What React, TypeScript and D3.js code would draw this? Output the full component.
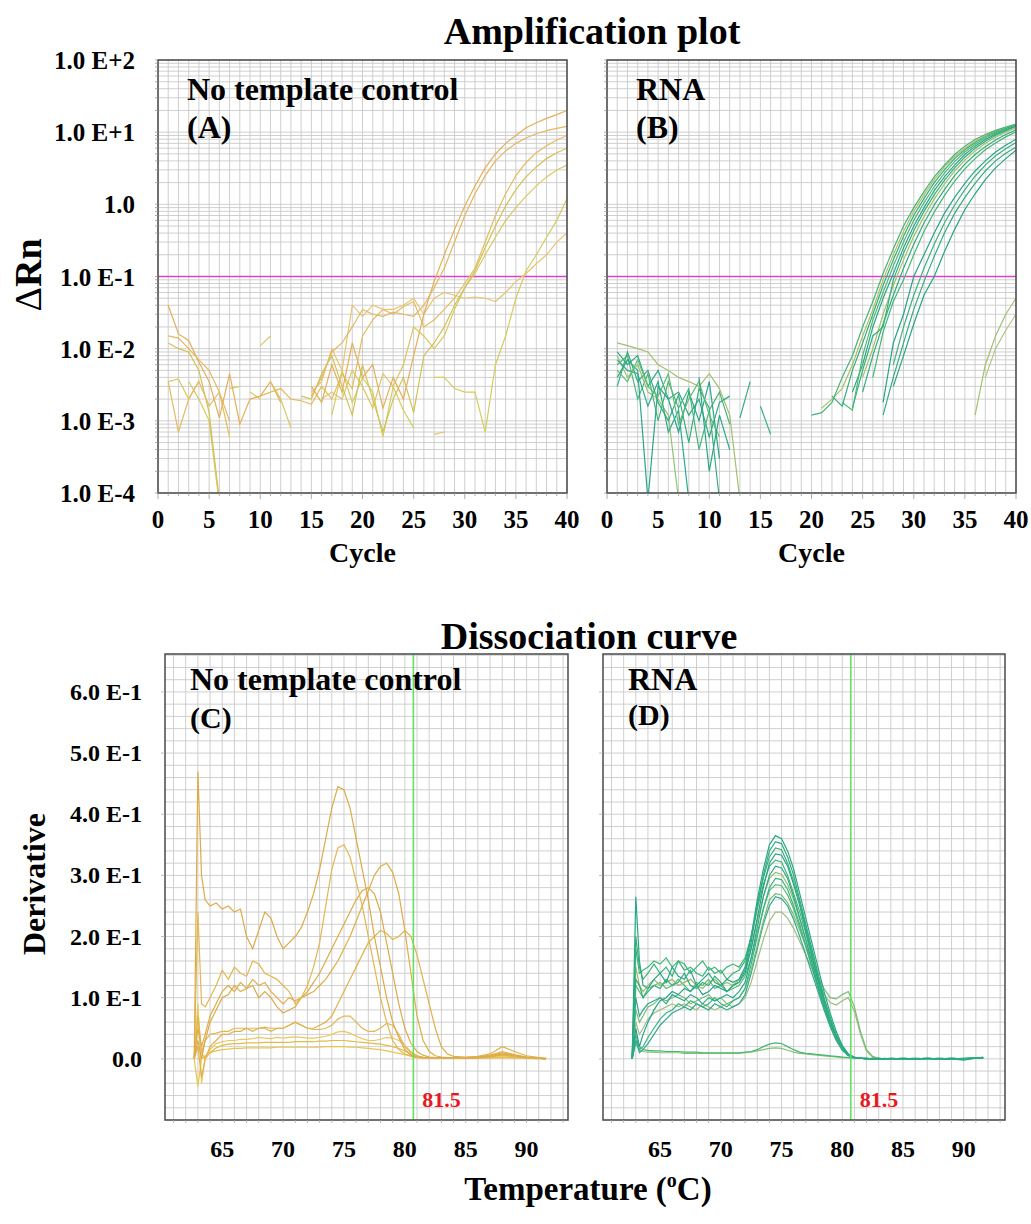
import React from 'react';
import * as d3 from 'd3';

// ---------- Amplification data (ΔRn per cycle) ----------
const cycleTicks = [0, 5, 10, 15, 20, 25, 30, 35, 40];
const logTickValues = [1e2, 1e1, 1, 1e-1, 1e-2, 1e-3, 1e-4];
const logTickLabels = ['1.0 E+2', '1.0 E+1', '1.0', '1.0 E-1', '1.0 E-2', '1.0 E-3', '1.0 E-4'];
const thresholdValue = 0.1;

// No template control (A) – series start at cycle 1 unless stated
const aE1 = [0.04, 0.016, 0.013, 0.0065, 0.0035, 0.0011, 0.0045, 0.0009, 0.002, 0.0022, 0.0035, 0.0018, null, null, 0.003, 0.0018, 0.006, 0.0025, 0.012, 0.004, 0.006, 0.0015, 0.004, 0.002, 0.008, 0.03, 0.085, 0.2, 0.45, 0.95, 1.8, 3.2, 5, 7, 9, 11.5, 13.5, 15.5, 17.5, 20];
const aE2 = [0.015, 0.014, 0.01, 0.007, 0.005, 0.0025, 0.001, null, null, null, null, null, null, null, 0.0022, 0.004, 0.009, 0.012, 0.02, 0.035, 0.03, 0.028, 0.032, 0.03, 0.028, 0.04, 0.07, 0.13, 0.3, 0.7, 1.4, 2.5, 4, 5.5, 7, 8.3, 9.5, 10.5, 11.3, 12];
const aM1 = [0.0035, 0.0007, 0.002, 0.0035, 0.0016, 0.0025, 0.0006, null, null, 0.0022, 0.0025, 0.0028, 0.002, 0.0019, 0.0017, 0.003, 0.002, 0.0045, 0.0028, 0.015, 0.025, 0.035, 0.03, 0.038, 0.045, 0.02, 0.025, 0.035, 0.05, 0.08, 0.13, 0.3, 0.7, 1.4, 2.5, 3.8, 5.2, 6.5, 7.8, 9];
const aM2 = [0.012, 0.01, 0.009, 0.005, 0.0013, 0.00008, null, null, null, null, null, null, null, 0.0022, 0.002, 0.0045, 0.008, 0.003, 0.0012, 0.006, 0.002, 0.0007, 0.002, 0.004, 0.0013, 0.008, 0.012, 0.02, 0.04, 0.07, 0.12, 0.25, 0.5, 0.95, 1.6, 2.4, 3.3, 4.3, 5.2, 6];
const aM3 = [null, null, 0.0035, 0.002, 0.001, 0.00007, null, null, 0.0025, 0.002, null, null, null, null, null, 0.002, 0.0025, 0.002, 0.005, 0.003, 0.0015, 0.0045, 0.003, 0.006, 0.02, 0.015, 0.01, 0.015, 0.035, 0.07, 0.11, 0.2, 0.35, 0.6, 0.9, 1.3, 1.8, 2.4, 3.0, 3.5];
const aL1 = [0.0035, 0.0038, 0.002, 0.0036, null, null, 0.0028, 0.003, null, null, null, null, null, null, null, null, 0.0012, 0.005, 0.0018, 0.004, 0.0025, 0.0006, 0.003, 0.0014, 0.0008, null, 0.004, 0.004, 0.0028, 0.0025, 0.0025, 0.0007, 0.006, 0.015, 0.05, 0.12, 0.2, 0.35, 0.6, 1.2];
const aL2 = [0.0025, 0.0035, 0.01, 0.005, 0.04, 0.028, 0.04, 0.035, 0.035, 0.04, 0.05, 0.03, 0.05, 0.06, 0.055, 0.05, 0.052, 0.05, 0.045, 0.06, 0.085, 0.11, 0.15, 0.2, 0.3, 0.4]; // from cycle 15
const aN1 = [0.011, 0.015]; // from cycle 10
const aN2 = [0.00065, 0.0007]; // from cycle 27
const aN3 = [0.0035, 0.002, 0.0008]; // from cycle 11

// RNA (B) – amplification parts start at cycle 20
const b1 = [0.0012, 0.0013, 0.0018, 0.004, 0.008, 0.02, 0.045, 0.11, 0.24, 0.5, 0.9, 1.5, 2.4, 3.5, 4.9, 6.4, 7.9, 9.3, 10.6, 11.8, 12.8];
const b2 = [null, 0.0015, 0.002, 0.0028, 0.006, 0.015, 0.035, 0.09, 0.2, 0.42, 0.8, 1.35, 2.2, 3.3, 4.6, 6.0, 7.5, 9.0, 10.4, 11.7, 12.9];
const b3 = [null, null, 0.0022, 0.0016, 0.005, 0.012, 0.03, 0.075, 0.17, 0.36, 0.7, 1.2, 2.0, 3.0, 4.3, 5.7, 7.2, 8.7, 10.1, 11.4, 12.7];
const b4 = [null, null, null, 0.0018, 0.0014, 0.008, 0.025, 0.06, 0.14, 0.3, 0.6, 1.05, 1.75, 2.7, 3.9, 5.3, 6.8, 8.3, 9.8, 11.2, 12.5];
const b5 = [null, null, null, null, 0.0025, 0.006, 0.02, 0.05, 0.11, 0.25, 0.5, 0.9, 1.55, 2.4, 3.5, 4.9, 6.4, 7.9, 9.4, 10.8, 12.2];
const b6 = [null, null, null, null, 0.0015, 0.005, 0.015, 0.02, 0.09, 0.21, 0.43, 0.8, 1.35, 2.15, 3.2, 4.5, 6.0, 7.5, 9.0, 10.5, 12.0];
const b7 = [null, null, null, null, null, 0.004, 0.01, 0.03, 0.075, 0.17, 0.36, 0.68, 1.18, 1.9, 2.9, 4.1, 5.5, 7.0, 8.5, 10.0, 11.5];
const b8 = [null, null, null, null, null, 0.0025, 0.008, 0.022, 0.055, 0.13, 0.28, 0.55, 0.98, 1.6, 2.5, 3.6, 4.9, 6.3, 7.8, 9.3, 10.8];
const b9 = [null, null, null, null, null, null, 0.004, 0.017, 0.045, 0.09, 0.2, 0.42, 0.78, 1.32, 2.1, 3.1, 4.3, 5.7, 7.1, 8.6, 10.1];
const b10 = [null, null, null, null, null, null, null, 0.0018, 0.012, 0.03, 0.1, 0.2, 0.4, 0.75, 1.25, 1.95, 2.9, 4.0, 5.3, 6.6, 8.0];
const b11 = [null, null, null, null, null, null, null, null, 0.006, 0.02, 0.055, 0.13, 0.28, 0.55, 0.98, 1.6, 2.45, 3.5, 4.7, 5.9, 7.2];
const b12 = [null, null, null, null, null, null, null, 0.0012, 0.004, 0.012, 0.035, 0.085, 0.19, 0.4, 0.75, 1.25, 1.95, 2.9, 4.0, 5.1, 6.2];
const b13 = [null, null, null, null, null, null, null, null, 0.003, 0.008, 0.022, 0.055, 0.1, 0.22, 0.45, 0.85, 1.4, 2.2, 3.2, 4.3, 5.6];
const bL1 = [0.0012, 0.006, 0.015, 0.03, 0.05]; // from cycle 36
const bL2 = [0.004, 0.01, 0.018, 0.03]; // from cycle 37
// RNA (B) – early noise, from cycle 1
const bn1 = [0.012, 0.011, 0.01, 0.009, 0.006, 0.005, 0.004, 0.0035, 0.003, 0.0045, 0.0028, 0.0012, 0.00008];
const bn2 = [0.009, 0.006, 0.008, 0.003, 0.005, 0.002, 0.0025, 0.0012, 0.002, 0.0006, 0.0018, 0.0022];
const bn3 = [0.006, 0.008, 0.002, 0.0045, 0.001, 0.0035, 0.0015, 0.0028, 0.0004, 0.0014, 0.0025, 0.0009];
const bn4 = [0.004, 0.007, 0.005, 0.00008, 0.003, 0.002, 0.0007, 0.0025, 0.001, 0.0035, 0.0003];
const bn5 = [0.008, 0.004, 0.006, 0.0025, 0.002, 0.0012, 0.00008];
const bn6 = [0.003, 0.009, 0.0035, 0.005, 0.0018, 0.001, 0.0023, 0.0005, 0.0028, 0.0015, 0.00008];
const bn7 = [0.007, 0.005, 0.0045, 0.0016, 0.0035, 0.0007, 0.0014, 0.00008];
const bn8 = [0.005, 0.0035, 0.007, 0.003, 0.0022, 0.0045, 0.0009, 0.002, 0.0035, 0.0012, 0.0006];
const bn9 = [0.0011, 0.0035]; // from cycle 13
const bn10 = [0.0016, 0.00065]; // from cycle 15
const bn11 = [0.004, 0.0002, 0.0012, 0.0004]; // from cycle 9

// ---------- Dissociation data (derivative vs temperature) ----------
const temps = [62.7, 63.0, 63.3, 63.6, 64.0, 64.5, 65.0, 65.5, 66.0, 66.5,
  67.0, 67.5, 68.0, 68.5, 69.0, 69.5, 70.0, 70.5, 71.0, 71.5,
  72.0, 72.5, 73.0, 73.5, 74.0, 74.5, 75.0, 75.5, 76.0, 76.5,
  77.0, 77.5, 78.0, 78.5, 79.0, 79.5, 80.0, 80.5, 81.0, 81.5,
  82.0, 82.5, 83.0, 83.5, 84.0, 85, 86, 87, 88, 89, 90, 91, 91.6];
const tempTicks = [65, 70, 75, 80, 85, 90];
const derivTicks = [0, 0.1, 0.2, 0.3, 0.4, 0.5, 0.6];
const derivTickLabels = ['0.0', '1.0 E-1', '2.0 E-1', '3.0 E-1', '4.0 E-1', '5.0 E-1', '6.0 E-1'];
const markerLabel = '81.5';
const markerTemp = 80.7;

// No template control (C)
const c1 = [0.0, 0.47, 0.3, 0.26, 0.25, 0.255, 0.245, 0.25, 0.24, 0.245,
  0.2, 0.18, 0.21, 0.24, 0.23, 0.2, 0.18, 0.19, 0.2, 0.215,
  0.24, 0.27, 0.31, 0.36, 0.41, 0.445, 0.44, 0.41, 0.36, 0.31,
  0.26, 0.2, 0.15, 0.1, 0.06, 0.035, 0.015, 0.006, 0.003, 0.002,
  0.002, 0.001, 0.002, 0.001, 0.002, 0.001, 0.002, 0.004, 0.008, 0.005, 0.002, 0.001, 0.0];
const c2 = [0.0, 0.24, 0.09, 0.085, 0.1, 0.12, 0.145, 0.13, 0.15, 0.14,
  0.135, 0.16, 0.155, 0.14, 0.135, 0.13, 0.12, 0.11, 0.09, 0.1,
  0.12, 0.15, 0.19, 0.25, 0.31, 0.345, 0.35, 0.33, 0.29, 0.25,
  0.2, 0.15, 0.1, 0.06, 0.03, 0.015, 0.008, 0.004, 0.002, 0.001,
  0.001, 0.002, 0.001, 0.001, 0.002, 0.001, 0.002, 0.003, 0.006, 0.004, 0.002, 0.001, 0.0];
const c3 = [0.0, 0.05, 0.02, 0.04, 0.07, 0.09, 0.11, 0.12, 0.11, 0.125,
  0.115, 0.13, 0.12, 0.125, 0.11, 0.1, 0.09, 0.1, 0.095, 0.1,
  0.105, 0.11, 0.12, 0.13, 0.145, 0.16, 0.18, 0.2, 0.225, 0.25,
  0.275, 0.3, 0.315, 0.32, 0.305, 0.27, 0.21, 0.14, 0.07, 0.03,
  0.012, 0.005, 0.003, 0.002, 0.002, 0.002, 0.003, 0.005, 0.01, 0.006, 0.003, 0.002, 0.001];
const c4 = [0.0, 0.03, 0.0, 0.03, 0.06, 0.08, 0.1, 0.105, 0.12, 0.11,
  0.115, 0.12, 0.1, 0.11, 0.1, 0.085, 0.075, 0.08, 0.085, 0.1,
  0.11, 0.125, 0.14, 0.16, 0.18, 0.2, 0.22, 0.24, 0.26, 0.275,
  0.28, 0.27, 0.24, 0.19, 0.14, 0.09, 0.05, 0.025, 0.012, 0.006,
  0.003, 0.002, 0.002, 0.001, 0.002, 0.001, 0.002, 0.004, 0.007, 0.004, 0.002, 0.001, 0.0];
const c5 = [0.0, 0.02, -0.03, 0.0, 0.02, 0.03, 0.04, 0.04, 0.045, 0.045,
  0.05, 0.045, 0.05, 0.05, 0.045, 0.05, 0.05, 0.055, 0.06, 0.055,
  0.05, 0.05, 0.055, 0.06, 0.07, 0.09, 0.11, 0.13, 0.15, 0.17,
  0.19, 0.2, 0.21, 0.205, 0.195, 0.2, 0.21, 0.2, 0.17, 0.13,
  0.09, 0.05, 0.02, 0.008, 0.004, 0.003, 0.004, 0.008, 0.02, 0.012, 0.005, 0.002, 0.001];
const c6 = [0.0, 0.07, 0.01, 0.03, 0.04, 0.042, 0.045, 0.045, 0.05, 0.05,
  0.05, 0.05, 0.05, 0.052, 0.05, 0.05, 0.05, 0.055, 0.06, 0.055,
  0.05, 0.048, 0.048, 0.05, 0.055, 0.065, 0.07, 0.07, 0.06, 0.05,
  0.045, 0.045, 0.05, 0.058, 0.055, 0.04, 0.02, 0.01, 0.005, 0.003,
  0.002, 0.002, 0.001, 0.002, 0.001, 0.002, 0.003, 0.006, 0.012, 0.007, 0.003, 0.001, 0.0];
const c7 = [0.0, 0.09, -0.04, 0.0, 0.015, 0.025, 0.028, 0.03, 0.03, 0.032,
  0.032, 0.033, 0.035, 0.034, 0.033, 0.035, 0.034, 0.035, 0.036, 0.035,
  0.034, 0.034, 0.035, 0.037, 0.04, 0.044, 0.045, 0.042, 0.037, 0.033,
  0.03, 0.03, 0.032, 0.035, 0.034, 0.03, 0.022, 0.012, 0.005, 0.002,
  0.001, 0.001, 0.002, 0.001, 0.001, 0.001, 0.002, 0.003, 0.005, 0.003, 0.002, 0.001, 0.0];
const c8 = [0.0, 0.08, 0.01, 0.0, 0.01, 0.018, 0.022, 0.024, 0.025, 0.025,
  0.026, 0.026, 0.026, 0.027, 0.027, 0.027, 0.027, 0.027, 0.028, 0.028,
  0.028, 0.028, 0.029, 0.029, 0.03, 0.03, 0.03, 0.029, 0.028, 0.027,
  0.026, 0.025, 0.024, 0.022, 0.02, 0.017, 0.013, 0.008, 0.004, 0.002,
  0.001, 0.001, 0.001, 0.001, 0.001, 0.001, 0.001, 0.002, 0.003, 0.002, 0.001, 0.001, 0.0];
const c9 = [0.0, -0.045, 0.0, 0.005, 0.01, 0.013, 0.015, 0.016, 0.017, 0.017,
  0.018, 0.018, 0.018, 0.018, 0.018, 0.019, 0.019, 0.019, 0.019, 0.019,
  0.019, 0.019, 0.019, 0.02, 0.02, 0.02, 0.02, 0.019, 0.019, 0.018,
  0.017, 0.016, 0.015, 0.013, 0.011, 0.009, 0.007, 0.005, 0.003, 0.002,
  0.001, 0.001, 0.001, 0.001, 0.001, 0.001, 0.001, 0.001, 0.002, 0.001, 0.001, 0.0, 0.0];

// RNA (D)
const dm1 = [0.0, 0.265, 0.16, 0.12, 0.115, 0.13, 0.14, 0.125, 0.15, 0.135,
  0.13, 0.145, 0.12, 0.13, 0.14, 0.125, 0.12, 0.13, 0.125, 0.13,
  0.15, 0.2, 0.26, 0.31, 0.35, 0.365, 0.36, 0.34, 0.31, 0.27,
  0.23, 0.19, 0.15, 0.11, 0.075, 0.045, 0.022, 0.008, 0.003, 0.001,
  0.001, 0, 0.001, 0, 0, 0.001, 0, 0.001, 0, 0, -0.002, 0.001, 0.003];
const dm2 = [0.0, 0.13, 0.12, 0.1, 0.11, 0.12, 0.115, 0.13, 0.12, 0.125,
  0.14, 0.12, 0.115, 0.125, 0.12, 0.135, 0.125, 0.11, 0.12, 0.125,
  0.145, 0.19, 0.25, 0.3, 0.34, 0.355, 0.352, 0.33, 0.3, 0.26,
  0.22, 0.18, 0.14, 0.1, 0.068, 0.04, 0.02, 0.007, 0.002, 0.001,
  0, 0.001, 0, 0, 0.001, 0, 0, 0.001, 0, 0.001, 0, 0.002, 0.002];
const dm3 = [0.0, 0.2, 0.15, 0.13, 0.14, 0.155, 0.14, 0.15, 0.135, 0.16,
  0.145, 0.15, 0.14, 0.135, 0.15, 0.14, 0.145, 0.13, 0.14, 0.145,
  0.16, 0.2, 0.25, 0.295, 0.33, 0.345, 0.342, 0.32, 0.29, 0.255,
  0.215, 0.175, 0.135, 0.098, 0.065, 0.038, 0.018, 0.007, 0.002, 0.001,
  0, 0, 0.001, 0, 0, 0, 0.001, 0, 0, 0.001, 0, 0.001, 0.002];
const dm4 = [0.0, 0.05, 0.02, 0.04, 0.06, 0.08, 0.095, 0.1, 0.11, 0.105,
  0.115, 0.11, 0.12, 0.105, 0.11, 0.12, 0.115, 0.11, 0.12, 0.125,
  0.14, 0.18, 0.23, 0.28, 0.32, 0.335, 0.333, 0.315, 0.285, 0.25,
  0.21, 0.17, 0.13, 0.095, 0.062, 0.036, 0.017, 0.006, 0.002, 0.001,
  0.001, 0, 0, 0.001, 0, 0, 0, 0.001, 0, 0, 0.001, 0.002, 0.001];
const dm5 = [0.0, 0.18, 0.14, 0.145, 0.15, 0.16, 0.155, 0.165, 0.15, 0.16,
  0.155, 0.14, 0.15, 0.16, 0.145, 0.15, 0.14, 0.15, 0.155, 0.15,
  0.165, 0.2, 0.245, 0.285, 0.315, 0.325, 0.322, 0.3, 0.27, 0.24,
  0.205, 0.165, 0.128, 0.09, 0.06, 0.034, 0.016, 0.006, 0.002, 0.001,
  0, 0.001, 0, 0, 0, 0.001, 0, 0, 0.001, 0, 0, 0.001, 0.002];
const dm6 = [0.0, 0.1, 0.07, 0.08, 0.09, 0.095, 0.1, 0.09, 0.105, 0.1,
  0.095, 0.105, 0.1, 0.09, 0.1, 0.095, 0.1, 0.105, 0.1, 0.11,
  0.125, 0.165, 0.215, 0.265, 0.3, 0.315, 0.312, 0.295, 0.265, 0.23,
  0.195, 0.158, 0.12, 0.086, 0.057, 0.033, 0.016, 0.006, 0.002, 0.001,
  0.001, 0, 0, 0, 0.001, 0, 0, 0, 0.001, 0, 0, 0.001, 0.002];
const dm7 = [0.0, 0.15, 0.12, 0.11, 0.12, 0.13, 0.12, 0.125, 0.13, 0.12,
  0.125, 0.13, 0.12, 0.115, 0.125, 0.13, 0.12, 0.125, 0.12, 0.13,
  0.145, 0.18, 0.225, 0.265, 0.295, 0.305, 0.302, 0.285, 0.26, 0.228,
  0.195, 0.16, 0.125, 0.092, 0.062, 0.037, 0.018, 0.007, 0.002, 0.001,
  0, 0, 0.001, 0, 0, 0.001, 0, 0, 0, 0.001, 0, 0.001, 0.002];
const dm8 = [0.0, 0.04, 0.015, 0.02, 0.035, 0.05, 0.065, 0.075, 0.08, 0.09,
  0.085, 0.095, 0.09, 0.085, 0.09, 0.1, 0.09, 0.085, 0.095, 0.1,
  0.115, 0.155, 0.2, 0.245, 0.28, 0.295, 0.293, 0.277, 0.25, 0.22,
  0.185, 0.15, 0.115, 0.083, 0.055, 0.032, 0.015, 0.006, 0.002, 0.001,
  0, 0.001, 0, 0, 0, 0, 0.001, 0, 0, 0, 0.001, 0.001, 0.002];
const dm9 = [0.0, 0.12, 0.11, 0.1, 0.115, 0.12, 0.125, 0.115, 0.12, 0.13,
  0.12, 0.11, 0.125, 0.12, 0.13, 0.115, 0.12, 0.11, 0.115, 0.12,
  0.135, 0.165, 0.205, 0.245, 0.275, 0.285, 0.283, 0.268, 0.245, 0.215,
  0.183, 0.15, 0.118, 0.087, 0.06, 0.036, 0.018, 0.007, 0.002, 0.001,
  0.001, 0, 0, 0, 0.001, 0, 0, 0.001, 0, 0, 0, 0.002, 0.001];
const dm10 = [0.0, 0.08, 0.06, 0.07, 0.085, 0.09, 0.1, 0.095, 0.1, 0.105,
  0.1, 0.09, 0.095, 0.1, 0.105, 0.095, 0.1, 0.09, 0.095, 0.1,
  0.115, 0.145, 0.185, 0.225, 0.26, 0.27, 0.268, 0.255, 0.235, 0.21,
  0.185, 0.16, 0.135, 0.115, 0.1, 0.098, 0.105, 0.11, 0.085, 0.045,
  0.015, 0.004, 0.001, 0, 0, 0.001, 0, 0, 0.001, 0, 0, 0.001, 0.002];
const dm11 = [0.0, 0.03, 0.01, 0.015, 0.025, 0.04, 0.055, 0.065, 0.075, 0.08,
  0.085, 0.08, 0.09, 0.085, 0.08, 0.09, 0.085, 0.08, 0.085, 0.09,
  0.105, 0.14, 0.18, 0.22, 0.25, 0.265, 0.262, 0.25, 0.228, 0.2,
  0.17, 0.14, 0.11, 0.08, 0.053, 0.03, 0.014, 0.005, 0.002, 0.001,
  0, 0, 0.001, 0, 0, 0, 0, 0.001, 0, 0.001, 0, 0.001, 0.002];
const dm12 = [0.0, 0.06, 0.04, 0.05, 0.065, 0.075, 0.08, 0.085, 0.09, 0.085,
  0.09, 0.085, 0.08, 0.09, 0.085, 0.08, 0.085, 0.09, 0.085, 0.09,
  0.1, 0.125, 0.16, 0.195, 0.225, 0.24, 0.24, 0.23, 0.213, 0.192,
  0.17, 0.148, 0.126, 0.106, 0.092, 0.088, 0.095, 0.1, 0.078, 0.04,
  0.012, 0.003, 0.001, 0, 0, 0, 0.001, 0, 0, 0.001, 0, 0.001, 0.002];
const dm13 = [0.0, 0.03, 0.02, 0.015, 0.014, 0.013, 0.013, 0.012, 0.012, 0.012,
  0.011, 0.011, 0.011, 0.01, 0.01, 0.01, 0.01, 0.01, 0.01, 0.01,
  0.011, 0.012, 0.015, 0.02, 0.024, 0.026, 0.025, 0.02, 0.015, 0.011,
  0.009, 0.008, 0.007, 0.006, 0.005, 0.004, 0.003, 0.002, 0.001, 0.001,
  0, 0, 0, 0, 0, 0, 0, 0, 0, 0, 0, 0.001, 0.002];
const dm14 = [0.0, 0.025, 0.015, 0.012, 0.011, 0.011, 0.01, 0.01, 0.01, 0.01,
  0.009, 0.009, 0.009, 0.009, 0.009, 0.009, 0.009, 0.009, 0.009, 0.009,
  0.01, 0.011, 0.013, 0.015, 0.017, 0.018, 0.017, 0.014, 0.011, 0.009,
  0.008, 0.007, 0.006, 0.005, 0.004, 0.003, 0.002, 0.002, 0.001, 0.001,
  0, 0, 0, 0, 0, 0, 0, 0, 0, 0, 0, 0.001, 0.002];

// ---------- Series tables ----------
type AmpSeries = { start: number; values: (number | null)[]; color: string };
const seriesA: AmpSeries[] = [
  { start: 1, values: aL1, color: '#d6cc5c' },
  { start: 15, values: aL2, color: '#e6c572' },
  { start: 1, values: aM3, color: '#d9c862' },
  { start: 1, values: aM2, color: '#d2c252' },
  { start: 1, values: aM1, color: '#e4bc5e' },
  { start: 1, values: aE2, color: '#e2b862' },
  { start: 1, values: aE1, color: '#e6ae58' },
  { start: 10, values: aN1, color: '#dac85e' },
  { start: 27, values: aN2, color: '#e4c068' },
  { start: 11, values: aN3, color: '#d8c658' },
];
const seriesB: AmpSeries[] = [
  { start: 1, values: bn1, color: '#a2c070' },
  { start: 1, values: bn2, color: '#2ea982' },
  { start: 1, values: bn3, color: '#48b67a' },
  { start: 1, values: bn4, color: '#28a588' },
  { start: 1, values: bn5, color: '#94c372' },
  { start: 1, values: bn6, color: '#34ae7e' },
  { start: 1, values: bn7, color: '#2ca98e' },
  { start: 1, values: bn8, color: '#64bc74' },
  { start: 13, values: bn9, color: '#34ab86' },
  { start: 15, values: bn10, color: '#34ab86' },
  { start: 9, values: bn11, color: '#2aa884' },
  { start: 20, values: b13, color: '#26a584' },
  { start: 20, values: b12, color: '#32ab84' },
  { start: 20, values: b11, color: '#3eb17c' },
  { start: 20, values: b10, color: '#26a38a' },
  { start: 20, values: b9, color: '#46b678' },
  { start: 20, values: b8, color: '#2eab80' },
  { start: 20, values: b7, color: '#a2c066' },
  { start: 20, values: b6, color: '#34b07a' },
  { start: 20, values: b5, color: '#28a688' },
  { start: 20, values: b4, color: '#50b874' },
  { start: 20, values: b3, color: '#32ad7e' },
  { start: 20, values: b2, color: '#b0bc66' },
  { start: 20, values: b1, color: '#44b478' },
  { start: 36, values: bL1, color: '#a0c270' },
  { start: 37, values: bL2, color: '#b6c47c' },
];
type MeltSeries = { values: number[]; color: string };
const seriesC: MeltSeries[] = [
  { values: c9, color: '#e8c64e' },
  { values: c8, color: '#e2bc48' },
  { values: c7, color: '#eac85e' },
  { values: c6, color: '#e0b852' },
  { values: c5, color: '#e2b04a' },
  { values: c4, color: '#dcaa4a' },
  { values: c3, color: '#deae46' },
  { values: c2, color: '#e4b650' },
  { values: c1, color: '#deaa48' },
];
const seriesD: MeltSeries[] = [
  { values: dm14, color: '#84c270' },
  { values: dm13, color: '#46b674' },
  { values: dm12, color: '#a0bc80' },
  { values: dm11, color: '#34a892' },
  { values: dm10, color: '#76be74' },
  { values: dm9, color: '#56bb74' },
  { values: dm8, color: '#3ab482' },
  { values: dm7, color: '#96bc66' },
  { values: dm6, color: '#2ca98c' },
  { values: dm5, color: '#3fb874' },
  { values: dm4, color: '#28a18c' },
  { values: dm3, color: '#36b278' },
  { values: dm2, color: '#30ac80' },
  { values: dm1, color: '#28a886' },
];

// ---------- Layout ----------
const FONT = "'Liberation Serif', 'Times New Roman', serif";
const GRID = '#c9c9c9';
const FRAME = '#4a4a4a';

type Box = { x0: number; x1: number; y0: number; y1: number };
const boxA: Box = { x0: 158, x1: 567, y0: 60, y1: 493 };
const boxB: Box = { x0: 607, x1: 1016, y0: 60, y1: 493 };
const boxC: Box = { x0: 165, x1: 568, y0: 654, y1: 1120 };
const boxD: Box = { x0: 603, x1: 1005, y0: 654, y1: 1120 };

const logGrid: number[] = [];
for (let e = -4; e <= 1; e++) for (let k = 1; k <= 9; k++) logGrid.push(k * Math.pow(10, e));
logGrid.push(100);

function AmpPanel({ box, series, id, showY, title, letter }: { box: Box; series: AmpSeries[]; id: string; showY: boolean; title: string; letter: string }) {
  const x = d3.scaleLinear().domain([0, 40]).range([box.x0, box.x1]);
  const y = d3.scaleLog().domain([1e-4, 1e2]).range([box.y1, box.y0]);
  const line = d3
    .line<[number, number | null]>()
    .defined((d) => d[1] != null && (d[1] as number) > 0)
    .x((d) => x(d[0]))
    .y((d) => y(d[1] as number));
  return (
    <g>
      <defs>
        <clipPath id={id}>
          <rect x={box.x0} y={box.y0} width={box.x1 - box.x0} height={box.y1 - box.y0} />
        </clipPath>
      </defs>
      <rect x={box.x0} y={box.y0} width={box.x1 - box.x0} height={box.y1 - box.y0} fill="#fff" />
      {d3.range(0, 41).map((c) => (
        <line key={'v' + c} x1={x(c)} x2={x(c)} y1={box.y0} y2={box.y1} stroke={GRID} strokeWidth={0.9} />
      ))}
      {logGrid.map((v, i) => (
        <line key={'h' + i} x1={box.x0} x2={box.x1} y1={y(v)} y2={y(v)} stroke={GRID} strokeWidth={0.9} />
      ))}
      <line x1={box.x0} x2={box.x1} y1={y(thresholdValue)} y2={y(thresholdValue)} stroke="#e040c8" strokeWidth={1.6} />
      <g clipPath={`url(#${id})`}>
        {series.map((s, i) => (
          <path
            key={i}
            d={line(s.values.map((v, j) => [s.start + j, v] as [number, number | null])) || ''}
            fill="none"
            stroke={s.color}
            strokeWidth={1.2}
          />
        ))}
      </g>
      <rect x={box.x0} y={box.y0} width={box.x1 - box.x0} height={box.y1 - box.y0} fill="none" stroke={FRAME} strokeWidth={1.5} />
      {d3.range(0, 41).map((c) => (
        <line key={'tx' + c} x1={x(c)} x2={x(c)} y1={box.y1} y2={box.y1 + (c % 5 === 0 ? 6 : 3)} stroke="#999" strokeWidth={0.8} />
      ))}
      {logGrid.map((v, i) => (
        <line key={'ty' + i} x1={box.x0 - 3} x2={box.x0} y1={y(v)} y2={y(v)} stroke="#999" strokeWidth={0.8} />
      ))}
      {cycleTicks.map((c) => (
        <text key={'xl' + c} x={x(c)} y={box.y1 + 35} textAnchor="middle" fontFamily={FONT} fontWeight="bold" fontSize={25}>
          {c}
        </text>
      ))}
      {showY &&
        logTickValues.map((v, i) => (
          <text key={'yl' + i} x={box.x0 - 23} y={y(v) + 9} textAnchor="end" fontFamily={FONT} fontWeight="bold" fontSize={25}>
            {logTickLabels[i]}
          </text>
        ))}
      <text x={(box.x0 + box.x1) / 2} y={box.y1 + 69} textAnchor="middle" fontFamily={FONT} fontWeight="bold" fontSize={28}>
        Cycle
      </text>
      <text x={box.x0 + 29} y={box.y0 + 40} fontFamily={FONT} fontWeight="bold" fontSize={32}>
        {title}
      </text>
      <text x={box.x0 + 29} y={box.y0 + 78} fontFamily={FONT} fontWeight="bold" fontSize={32}>
        {letter}
      </text>
    </g>
  );
}

function MeltPanel({ box, series, id, showY, title, letter, letterDy }: { box: Box; series: MeltSeries[]; id: string; showY: boolean; title: string; letter: string; letterDy: number }) {
  const x = d3.scaleLinear().domain([60.3, 93.4]).range([box.x0, box.x1]);
  const y = d3.scaleLinear().domain([-0.1, 0.662]).range([box.y1, box.y0]);
  const line = d3
    .line<number>()
    .x((_, i) => x(temps[i]))
    .y((d) => y(d));
  const vGrid = d3.range(61, 94);
  const hGrid = d3.range(-0.1, 0.661, 0.02);
  return (
    <g>
      <defs>
        <clipPath id={id}>
          <rect x={box.x0} y={box.y0} width={box.x1 - box.x0} height={box.y1 - box.y0} />
        </clipPath>
      </defs>
      <rect x={box.x0} y={box.y0} width={box.x1 - box.x0} height={box.y1 - box.y0} fill="#fff" />
      {vGrid.map((t) => (
        <line key={'v' + t} x1={x(t)} x2={x(t)} y1={box.y0} y2={box.y1} stroke={GRID} strokeWidth={0.9} />
      ))}
      {hGrid.map((v, i) => (
        <line key={'h' + i} x1={box.x0} x2={box.x1} y1={y(v)} y2={y(v)} stroke={GRID} strokeWidth={0.9} />
      ))}
      <g clipPath={`url(#${id})`}>
        {series.map((s, i) => (
          <path key={i} d={line(s.values) || ''} fill="none" stroke={s.color} strokeWidth={1.2} />
        ))}
      </g>
      <line x1={x(markerTemp)} x2={x(markerTemp)} y1={box.y0} y2={box.y1} stroke="#62e062" strokeWidth={1.6} />
      <text x={x(markerTemp) + 9} y={box.y1 - 13} fontFamily={FONT} fontWeight="bold" fontSize={22} fill="#e8191e">
        {markerLabel}
      </text>
      <rect x={box.x0} y={box.y0} width={box.x1 - box.x0} height={box.y1 - box.y0} fill="none" stroke={FRAME} strokeWidth={1.5} />
      {vGrid.map((t) => (
        <line key={'tx' + t} x1={x(t)} x2={x(t)} y1={box.y1} y2={box.y1 + 3} stroke="#aaa" strokeWidth={0.8} />
      ))}
      {derivTicks.map((v) => (
        <line key={'ty' + v} x1={box.x0 - 4} x2={box.x0} y1={y(v)} y2={y(v)} stroke="#aaa" strokeWidth={0.8} />
      ))}
      {tempTicks.map((t) => (
        <text key={'xl' + t} x={x(t)} y={box.y1 + 37} textAnchor="middle" fontFamily={FONT} fontWeight="bold" fontSize={24}>
          {t}
        </text>
      ))}
      {showY &&
        derivTicks.map((v, i) => (
          <text key={'yl' + i} x={box.x0 - 23} y={y(v) + 8} textAnchor="end" fontFamily={FONT} fontWeight="bold" fontSize={24}>
            {derivTickLabels[i]}
          </text>
        ))}
      <text x={box.x0 + 25} y={box.y0 + 36} fontFamily={FONT} fontWeight="bold" fontSize={32}>
        {title}
      </text>
      <text x={box.x0 + 25} y={box.y0 + 36 + letterDy} fontFamily={FONT} fontWeight="bold" fontSize={30}>
        {letter}
      </text>
    </g>
  );
}

export default function App() {
  return (
    <svg width={1031} height={1224} viewBox="0 0 1031 1224" style={{ position: 'absolute', left: 0, top: 0, background: '#fff' }}>
      <rect x={0} y={0} width={1031} height={1224} fill="#fff" />
      <text x={592} y={44} textAnchor="middle" fontFamily={FONT} fontWeight="bold" fontSize={38}>
        Amplification plot
      </text>
      <text x={589} y={649} textAnchor="middle" fontFamily={FONT} fontWeight="bold" fontSize={38}>
        Dissociation curve
      </text>
      <text transform="translate(41,275) rotate(-90)" textAnchor="middle" fontFamily={FONT} fontWeight="bold" fontSize={38}>
        <tspan fontWeight="normal">Δ</tspan>Rn
      </text>
      <text transform="translate(45,884) rotate(-90)" textAnchor="middle" fontFamily={FONT} fontWeight="bold" fontSize={32}>
        Derivative
      </text>
      <AmpPanel box={boxA} series={seriesA} id="clipA" showY={true} title="No template control" letter="(A)" />
      <AmpPanel box={boxB} series={seriesB} id="clipB" showY={false} title="RNA" letter="(B)" />
      <MeltPanel box={boxC} series={seriesC} id="clipC" showY={true} title="No template control" letter="(C)" letterDy={38} />
      <MeltPanel box={boxD} series={seriesD} id="clipD" showY={false} title="RNA" letter="(D)" letterDy={35} />
      <text x={588} y={1200} textAnchor="middle" fontFamily={FONT} fontWeight="bold" fontSize={33}>
        Temperature (<tspan fontSize={20} dy={-13}>o</tspan>
        <tspan dy={13}>C)</tspan>
      </text>
    </svg>
  );
}
